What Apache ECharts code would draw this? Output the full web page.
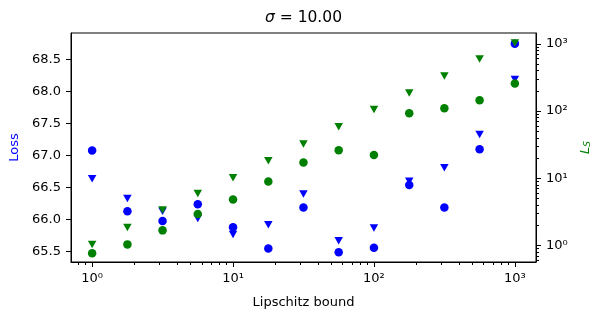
<!DOCTYPE html>
<html>
<head>
<meta charset="utf-8">
<script src="https://cdn.jsdelivr.net/npm/echarts@6/dist/echarts.min.js"></script>
<style>
  html, body { margin: 0; padding: 0; background: #fff; }
  #chart { width: 602px; height: 321px; }
</style>
</head>
<body>
<div id="chart"></div>
<script>
// Lipschitz bound (x, log scale)
const bounds = [1, 1.78, 3.16, 5.62, 10, 17.8, 31.6, 56.2, 100, 178, 316, 562, 1000]
// Loss (left axis, blue)
const lossCircle = [67.08, 66.13, 65.98, 66.24, 65.88, 65.55, 66.19, 65.49, 65.56, 66.54, 66.19, 67.10, 68.75]
const lossTriangle = [66.64, 66.33, 66.13, 66.02, 65.77, 65.92, 66.40, 65.67, 65.87, 66.60, 66.81, 67.33, 68.19]
// L_S (right axis, green, log scale)
const lsCircle = [0.77, 1.04, 1.68, 2.94, 4.85, 8.98, 17.2, 26.2, 22.1, 92.9, 110, 145, 256]
const lsTriangle = [1.04, 1.86, 3.37, 5.96, 10.2, 18.2, 32.2, 58.1, 105, 186, 333, 595, 1028]
// tick labels
const lossTicks = [65.5, 66.0, 66.5, 67.0, 67.5, 68.0, 68.5]
const decadeTicks = [1, 10, 100, 1000]
const decadeLabels = ['10⁰', '10¹', '10²', '10³']

const lg = Math.log10
const font = 'DejaVu Sans'

// minor ticks of the log axes (2..9 x 10^k)
function minorTicks(lo, hi) {
  const out = []
  for (let e = -1; e <= 3; e++) {
    for (let m = 2; m <= 9; m++) {
      const v = lg(m * Math.pow(10, e))
      if (v > lo && v < hi) out.push(v)
    }
  }
  return out
}

const xMin = -0.15, xMax = 3.15
const rMin = -0.245, rMax = 3.16

function pts(ys, logY) {
  return bounds.map((b, i) => [lg(b), logY ? lg(ys[i]) : ys[i]])
}
function decadeLabel(v) {
  return decadeLabels[decadeTicks.indexOf(Math.round(Math.pow(10, v)))] || ''
}

const chart = echarts.init(document.getElementById('chart'), null, { renderer: 'canvas' })
const option = {
  animation: false,
  backgroundColor: '#fff',
  textStyle: { fontFamily: font },
  title: {
    text: '{s|σ} = 10.00',
    left: 303.5,
    textAlign: 'center',
    top: 10,
    padding: 0,
    textStyle: {
      fontFamily: font, fontSize: 15.5, fontWeight: 'normal', color: '#000',
      rich: { s: { fontFamily: font, fontSize: 15.5, fontStyle: 'italic', color: '#000' } }
    }
  },
  grid: {
    left: 71, top: 33, width: 465, height: 229,
    show: true, borderColor: '#000', borderWidth: 1, backgroundColor: 'transparent'
  },
  xAxis: [{
    type: 'value', min: xMin, max: xMax,
    name: 'Lipschitz bound', nameLocation: 'middle', nameGap: 34,
    nameTextStyle: { fontFamily: font, fontSize: 13, color: '#000' },
    axisLine: { show: true, onZero: false, lineStyle: { color: '#000', width: 1 } },
    axisTick: { show: true, inside: false, length: 5, customValues: decadeTicks.map(lg), lineStyle: { color: '#000' } },
    axisLabel: {
      show: true, margin: 10, customValues: decadeTicks.map(lg), formatter: decadeLabel,
      fontFamily: font, fontSize: 13, color: '#000'
    },
    splitLine: { show: false }
  }, {
    type: 'value', min: xMin, max: xMax, position: 'bottom', gridIndex: 0,
    axisLine: { show: false, onZero: false },
    axisTick: { show: true, inside: false, length: 3, customValues: minorTicks(xMin, xMax), lineStyle: { color: '#000' } },
    axisLabel: { show: false },
    splitLine: { show: false }
  }],
  yAxis: [{
    type: 'value', min: 65.339, max: 68.916, position: 'left',
    name: 'Loss', nameLocation: 'middle', nameGap: 48, nameRotate: 90,
    nameTextStyle: { fontFamily: font, fontSize: 13, color: '#0000ff' },
    axisLine: { show: true, onZero: false, lineStyle: { color: '#000', width: 1 } },
    axisTick: { show: true, inside: false, length: 5, customValues: lossTicks, lineStyle: { color: '#000' } },
    axisLabel: {
      show: true, margin: 10, customValues: lossTicks, formatter: v => v.toFixed(1),
      fontFamily: font, fontSize: 13, color: '#000'
    },
    splitLine: { show: false }
  }, {
    type: 'value', min: rMin, max: rMax, position: 'right',
    name: '{l|L}{s|S}', nameLocation: 'middle', nameGap: 37, nameRotate: 90,
    nameTextStyle: {
      fontFamily: font, fontSize: 13, color: '#008000',
      rich: {
        l: { fontFamily: font, fontSize: 13, fontStyle: 'italic', color: '#008000' },
        s: { fontFamily: font, fontSize: 9, fontStyle: 'italic', color: '#008000', verticalAlign: 'bottom', padding: [6, 0, 0, 0] }
      }
    },
    axisLine: { show: true, onZero: false, lineStyle: { color: '#000', width: 1 } },
    axisTick: { show: true, inside: false, length: 5, customValues: decadeTicks.map(lg), lineStyle: { color: '#000' } },
    axisLabel: {
      show: true, margin: 10, customValues: decadeTicks.map(lg), formatter: decadeLabel,
      fontFamily: font, fontSize: 13, color: '#000'
    },
    splitLine: { show: false }
  }, {
    type: 'value', min: rMin, max: rMax, position: 'right',
    axisLine: { show: false, onZero: false },
    axisTick: { show: true, inside: false, length: 3, customValues: minorTicks(rMin, rMax), lineStyle: { color: '#000' } },
    axisLabel: { show: false },
    splitLine: { show: false }
  }],
  series: [{
    name: 'loss triangle', type: 'scatter', xAxisIndex: 0, yAxisIndex: 0,
    symbol: 'triangle', symbolRotate: 180, symbolSize: [8.5, 7.5],
    itemStyle: { color: '#0000ff', opacity: 1 },
    data: pts(lossTriangle, false)
  }, {
    name: 'loss circle', type: 'scatter', xAxisIndex: 0, yAxisIndex: 0,
    symbol: 'circle', symbolSize: 8.5,
    itemStyle: { color: '#0000ff', opacity: 1 },
    data: pts(lossCircle, false)
  }, {
    name: 'ls triangle', type: 'scatter', xAxisIndex: 0, yAxisIndex: 1,
    symbol: 'triangle', symbolRotate: 180, symbolSize: [8.5, 7.5],
    itemStyle: { color: '#008000', opacity: 1 },
    data: pts(lsTriangle, true)
  }, {
    name: 'ls circle', type: 'scatter', xAxisIndex: 0, yAxisIndex: 1,
    symbol: 'circle', symbolSize: 8.5,
    itemStyle: { color: '#008000', opacity: 1 },
    data: pts(lsCircle, true)
  }]
}
chart.setOption(option)
</script>
</body>
</html>
